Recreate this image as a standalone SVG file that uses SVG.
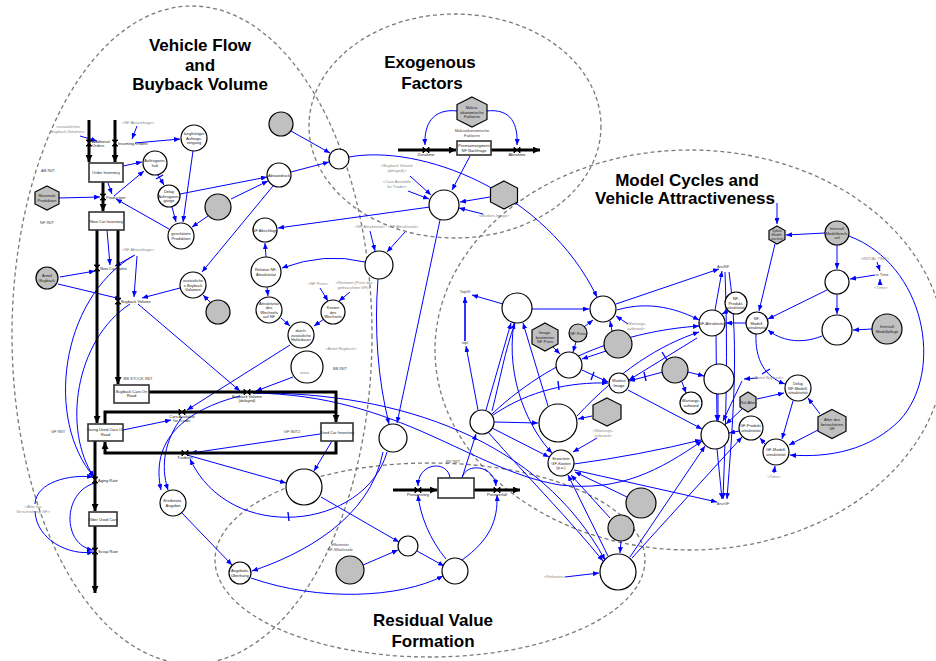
<svg xmlns="http://www.w3.org/2000/svg" width="936" height="661" viewBox="0 0 936 661">
<style>
.e{fill:none;stroke:#7a7a7a;stroke-width:1.3;stroke-dasharray:4 3}
.t{font-family:"Liberation Sans",Arial,sans-serif;font-weight:bold;font-size:17px;text-anchor:middle;fill:#000}
.l{font-family:"Liberation Sans",Arial,sans-serif;font-size:4px;text-anchor:middle;fill:#222}
.s{text-anchor:start}
.gl{fill:#8a8a8a}
.dk{fill:#444}
.n{fill:#fff;stroke:#000;stroke-width:1.2}
.g{fill:#c0c0c0;stroke:#000;stroke-width:1.2}
.b{fill:#fff;stroke:#333;stroke-width:1.6}
.p{fill:none;stroke:#000;stroke-width:3}
.pa{marker-end:url(#pa)}
.c path{fill:none;stroke:#0000ff;stroke-width:1;marker-end:url(#a)}
.c path.k{marker-end:none;stroke-width:1.4}
</style>
<defs>
<marker id="a" markerUnits="userSpaceOnUse" markerWidth="6" markerHeight="5" refX="6" refY="2.5" orient="auto"><path d="M0,0 L6,2.5 L0,5 z" fill="#0000ff"/></marker>
<marker id="pa" markerUnits="userSpaceOnUse" markerWidth="8" markerHeight="7" refX="7" refY="3.5" orient="auto"><path d="M0,0 L7,3.5 L0,7 z" fill="#000"/></marker>
<path id="vv" d="M-3,-3 H3 L-3,3 H3 Z" fill="#000" stroke="#000" stroke-width="0.8"/>
<path id="vh" d="M-3,-3 V3 L3,-3 V3 Z" fill="#000" stroke="#000" stroke-width="0.8"/>
</defs>
<rect width="936" height="661" fill="#fff"/>

<g id="regions">
<ellipse class="e" cx="192" cy="335" rx="180" ry="329"/>
<ellipse class="e" cx="455" cy="126" rx="146" ry="112"/>
<ellipse class="e" cx="690" cy="350" rx="255" ry="200"/>
<ellipse class="e" cx="430" cy="560" rx="215" ry="97"/>
<text class="t" x="200" y="51">Vehicle Flow</text>
<text class="t" x="200" y="71">and</text>
<text class="t" x="200" y="90">Buyback Volume</text>
<text class="t" x="430" y="68">Exogenous</text>
<text class="t" x="432" y="89">Factors</text>
<text class="t" x="687" y="186">Model Cycles and</text>
<text class="t" x="685" y="204">Vehicle Attractiveness</text>
<text class="t" x="433" y="626">Residual Value</text>
<text class="t" x="433" y="647">Formation</text>
</g>

<g id="connectors" class="c">
<path d="M80,136 L97,141"/>
<path d="M137,126 L132,139"/>
<path d="M135,143 L180,139"/>
<path d="M123,166 L142,162"/>
<path d="M114,196 L144,171"/>
<path d="M108,183 L112,194"/>
<path d="M59,198 L100,197"/>
<path d="M158,175 L164,185"/><path class="k" d="M156,179 L163,175"/>
<path d="M172,207 L176,222"/>
<path d="M193,151 L183,222"/>
<path d="M208,216 L192,227"/>
<path d="M169,229 L116,199"/>
<path d="M180,194 L267,177"/>
<path d="M231,199 L268,181"/>
<path d="M291,172 L329,162"/>
<path d="M291,131 L330,153"/>
<path d="M273,186 L202,272"/>
<path d="M107,230 L110,265"/>
<path d="M135,255 L115,266"/>
<path d="M137,256 L134,297"/>
<path d="M60,277 L95,271"/>
<path d="M58,284 L121,299"/>
<path d="M180,288 L142,298"/>
<path d="M210,302 L203,295"/>
<path d="M138,304 L240,391"/>
<path d="M290,345 L187,410"/>
<path d="M293,377 L256,391"/>
<path d="M281,318 L290,326"/>
<path d="M324,319 L314,326"/>
<path d="M320,288 L328,301"/>
<path d="M350,292 L339,301"/>
<path d="M266,257 L265,243"/>
<path d="M267,287 L268,296"/>
<path d="M365,262 Q325,252 282,268"/>
<path d="M430,207 L278,228"/>
<path d="M370,231 L375,251"/>
<path d="M405,232 L387,252"/>
<path d="M410,176 L431,195"/>
<path d="M408,191 L429,199"/>
<path d="M470,156 L452,190"/>
<path d="M490,197 L460,202"/>
<path d="M483,214 L459,208"/>
<path d="M458,111 C432,108 424,125 425,145"/>
<path d="M486,111 C512,108 518,125 517,145"/>
<path d="M349,157 C420,144 545,190 597,297"/>
<path d="M440,220 L397,423"/>
<path d="M378,279 C374,330 378,380 389,424"/>
<path d="M123,430 L171,420"/>
<path d="M320,434 L191,453"/>
<path d="M332,441 L314,471"/>
<path d="M187,455 L286,483"/>
<path d="M387,452 C365,530 230,545 190,459"/><path class="k" d="M288,512 L289,521"/>
<path d="M383,452 C370,520 300,555 252,571"/>
<path d="M181,512 L232,565"/>
<path d="M240,396 C185,410 150,440 161,490"/>
<path d="M182,417 C165,440 160,465 168,490"/>
<path d="M251,578 C320,602 400,598 443,576"/>
<path d="M321,497 L399,542"/>
<path d="M363,565 L398,550"/>
<path d="M417,551 L444,566"/>
<path d="M446,559 C430,540 420,515 418,495"/>
<path d="M450,478 C448,460 418,462 418,486"/>
<path d="M462,478 C466,462 494,465 496,486"/>
<path d="M462,560 C490,540 498,520 497,495"/>
<path d="M253,393 C400,392 540,440 605,560"/>
<path d="M253,393 C400,395 470,470 560,485 C620,492 660,470 702,441"/>
<path d="M133,256 C60,300 45,420 94,477"/>
<path d="M130,304 C75,340 62,430 94,477"/>
<path d="M35,504 C36,482 70,474 93,477"/>
<path d="M35,511 C36,540 70,556 93,552"/>
<path d="M95,483 C62,492 62,545 93,550"/>
<path d="M503,304 L472,295"/>
<path d="M465,341 L465,297" style="stroke-width:1.6"/>
<path d="M478,410 L466,346"/>
<path d="M532,309 L589,309"/>
<path d="M486,410 L511,323"/>
<path d="M492,411 C500,380 505,350 515,323"/>
<path d="M548,406 L523,323"/>
<path d="M514,323 C505,380 530,430 552,453"/>
<path d="M493,415 C530,390 570,382 608,383"/><path class="k" d="M558,381 L559,390"/>
<path d="M494,422 L538,423"/>
<path d="M492,428 L549,457"/>
<path d="M592,416 L578,419"/>
<path d="M597,438 L573,452"/>
<path d="M574,464 Q640,455 701,440"/>
<path d="M574,470 L717,502"/>
<path d="M627,497 L575,472"/>
<path d="M610,518 L571,475"/>
<path d="M608,556 L568,475"/>
<path d="M621,541 L620,553"/>
<path d="M565,577 L599,573"/>
<path d="M632,558 L742,437"/>
<path d="M488,432 C530,480 570,520 603,561"/>
<path d="M462,478 L476,434"/>
<path d="M616,304 L719,269"/>
<path d="M617,310 C650,300 680,310 699,320"/>
<path d="M492,414 C560,350 640,330 699,326"/>
<path d="M577,416 C620,370 660,345 699,332"/>
<path d="M697,338 L629,380"/><path class="k" d="M662,352 L667,360"/>
<path d="M663,372 L629,381"/><path class="k" d="M644,372 L646,381"/>
<path d="M582,370 L608,382"/><path class="k" d="M594,372 L591,380"/>
<path d="M688,372 L704,376"/>
<path d="M682,382 L686,393"/>
<path d="M718,394 L718,421"/>
<path d="M716,336 L717,421"/>
<path d="M628,390 L702,429"/>
<path d="M630,557 L705,446"/>
<path d="M717,449 L722,499"/>
<path d="M725,272 C728,350 726,420 723,499"/>
<path d="M729,272 C740,350 732,430 727,499"/>
<path d="M758,378 L744,379"/>
<path d="M742,381 L723,421"/>
<path d="M739,431 L729,433"/>
<path d="M728,311 L722,314"/>
<path d="M746,323 L726,323"/>
<path d="M715,310 L722,271"/>
<path d="M777,203 L777,224"/>
<path d="M825,233 L786,235"/>
<path d="M837,245 L837,269"/>
<path d="M875,275 L850,279"/>
<path d="M877,262 L880,271"/>
<path d="M880,285 L880,279"/>
<path d="M837,294 L837,314"/>
<path d="M872,329 L853,330"/>
<path d="M827,290 L768,319"/>
<path d="M822,336 C800,345 780,340 768,330"/>
<path d="M775,244 L759,311"/>
<path d="M756,334 C755,360 765,377 785,384"/><path class="k" d="M762,374 L770,369"/>
<path d="M757,399 L784,393"/>
<path d="M742,409 L726,424"/>
<path d="M793,401 L782,439"/>
<path d="M820,414 L808,398"/>
<path d="M818,430 L789,445"/>
<path d="M774,473 L775,466"/>
<path d="M849,236 C925,265 945,370 900,420 C870,450 830,458 790,455"/>
<path d="M765,444 L760,438"/>
<path d="M553,347 L560,354"/>
<path d="M576,342 L573,352"/>
<path d="M606,351 L582,359"/>
<path d="M584,327 L593,320"/>
<path d="M612,331 L610,321"/>
<path d="M628,324 L616,316"/>
</g>

<g id="pipes">
<path class="p pa" d="M89,120 V162"/>
<path class="p pa" d="M115,120 V162"/>
<path class="p pa" d="M103,182 V211"/>
<path class="p pa" d="M97,230 V423"/>
<path class="p pa" d="M118,230 V384"/>
<path class="p pa" d="M149,392 H336 V422"/>
<path class="p" d="M105,424 V412 H336"/>
<path class="p pa" d="M336,441 V453 H105 V442"/>
<path class="p pa" d="M95,441 V511"/>
<path class="p pa" d="M95,526 V593"/>
<path class="p pa" d="M398,150 H456"/>
<path class="p pa" d="M491,150 H540"/>
<path class="p pa" d="M393,490 H437"/>
<path class="p pa" d="M474,490 H520"/>
<use href="#vv" x="89" y="143"/><use href="#vv" x="115" y="143"/>
<use href="#vv" x="103" y="197"/><use href="#vv" x="97" y="268"/>
<use href="#vv" x="118" y="301"/><use href="#vh" x="247" y="392"/>
<use href="#vh" x="182" y="412"/><use href="#vh" x="185" y="453"/>
<use href="#vv" x="95" y="480"/><use href="#vv" x="95" y="551"/>
<use href="#vh" x="426" y="150"/><use href="#vh" x="517" y="150"/>
<use href="#vh" x="418" y="490"/><use href="#vh" x="497" y="490"/>
<text class="l s" x="92" y="142.5">Additional</text>
<text class="l s" x="92" y="146.8">Orders</text>
<text class="l s" x="118" y="144.5">Incoming Orders</text>
<text class="l s" x="106" y="198.5">Production</text>
<text class="l s" x="100" y="269.5">New Car Sales</text>
<text class="l s" x="121" y="302.5">Buyback Volume</text>
<text class="l" x="247" y="397.5">Buyback Volume</text>
<text class="l" x="247" y="402">(delayed)</text>
<text class="l" x="182" y="417.5">Cars Available</text>
<text class="l" x="182" y="422">for Trader</text>
<text class="l" x="185" y="459">Tradeins</text>
<text class="l s" x="98" y="481.5">Aging Rate</text>
<text class="l s" x="98" y="552.5">Scrap Rate</text>
<text class="l" x="426" y="155.5">Zunahme</text>
<text class="l" x="517" y="155.5">Abnahme</text>
<text class="l" x="418" y="496">Preisanstieg</text>
<text class="l" x="497" y="496">Preisverfall</text>
</g>

<g id="order-inventory"><rect class="b" x="89" y="163" width="34" height="19"/><text class="l" x="106" y="174">Order Inventory</text></g>
<g id="new-car-inventory"><rect class="b" x="89" y="212" width="35" height="18"/><text class="l" x="106.5" y="222.5">New Car Inventory</text></g>
<g id="buyback-cars"><rect class="b" x="114" y="385" width="35" height="18"/><text class="l" x="131.5" y="392.5">Buyback Cars On</text><text class="l" x="131.5" y="397">Road</text></g>
<g id="young-used-cars"><rect class="b" x="88" y="424" width="35" height="17"/><text class="l" x="105.5" y="431">Young Used Cars On</text><text class="l" x="105.5" y="435.5">Road</text></g>
<g id="older-used-cars"><rect class="b" x="89" y="512" width="28" height="14"/><text class="l" x="103" y="520.5">Older Used Cars</text></g>
<g id="used-car-inventory"><rect class="b" x="321" y="423" width="32" height="18"/><text class="l" x="337" y="433.5">Used Car Inventory</text></g>
<g id="premium-nf"><rect class="b" x="457" y="141" width="34" height="14"/><text class="l" x="474" y="147">Premiumsegment</text><text class="l" x="474" y="151.5">NF Nachfrage</text></g>
<g id="rv-stock"><rect class="b" x="438" y="478" width="36" height="20"/></g>

<g id="maximale-produktion"><polygon class="g" points="47,186 59,192 59,204 47,210 35,204 35,192"/><text class="l" x="47" y="197.3">Maximale</text><text class="l" x="47" y="201.8">Produktion</text></g>
<g id="makro"><polygon class="g" points="472,97 487,104.5 487,119.5 472,127 457,119.5 457,104.5"/><text class="l" x="472" y="109">Makro-</text><text class="l" x="472" y="113.5">ökonomische</text><text class="l" x="472" y="118">Faktoren</text></g>
<g id="exo-hex"><polygon class="g" points="504,181 517.5,188 517.5,202 504,209 490.5,202 490.5,188"/></g>
<g id="image-bestimmer"><polygon class="g" points="545,323 558,330 558,344 545,351 532,344 532,330"/><text class="l" x="545" y="334">Image-</text><text class="l" x="545" y="338.5">bestimmer</text><text class="l" x="545" y="343">NF-Preis</text></g>
<g id="hex-wartung"><polygon class="g" points="607,398 621,405 621,419 607,426 593,419 593,405"/></g>
<g id="zyklus-hex"><polygon class="g" points="777,226 785,230.5 785,239.5 777,244 769,239.5 769,230.5"/><text class="l" x="777" y="232" style="font-size:3.3px">Zyklus</text><text class="l" x="777" y="235.8" style="font-size:3.3px">Modell-</text><text class="l" x="777" y="239.6" style="font-size:3.3px">wechsel</text></g>
<g id="rel-alter"><polygon class="g" points="748,392 756,397 756,407 748,412 740,407 740,397"/><text class="l" x="748" y="403.5">Rel.Alter</text></g>
<g id="alter-gf"><polygon class="g" points="832,409.5 846,416.75 846,431.25 832,438.5 818,431.25 818,416.75"/><text class="l" x="832" y="421">Alter des</text><text class="l" x="832" y="425.5">betrachteten</text><text class="l" x="832" y="430">GF</text></g>

<g id="langfristiger"><circle class="n" cx="194" cy="138" r="13"/><text class="l" x="194" y="135">langfristiger</text><text class="l" x="194" y="139.5">Auftrags-</text><text class="l" x="194" y="144">eingang</text></g>
<g id="auftragsein"><circle class="n" cx="155" cy="163" r="12"/><text class="l" x="155" y="162.3">Auftragsein-</text><text class="l" x="155" y="166.8">halt</text></g>
<g id="delay-auftrag"><circle class="n" cx="169" cy="196" r="11"/><text class="l" x="169" y="193">Delay</text><text class="l" x="169" y="197.5">Auftragsein-</text><text class="l" x="169" y="202">gänge</text></g>
<g id="geschaetzte-produktion"><circle class="n" cx="181" cy="236" r="13"/><text class="l" x="181" y="235.3">geschätzte</text><text class="l" x="181" y="239.8">Produktion</text></g>
<g id="grey1"><circle class="g" cx="218" cy="207" r="13"/></g>
<g id="absatzdruck"><circle class="n" cx="279" cy="175" r="12"/><text class="l" x="279" y="176.5">Absatzdruck</text></g>
<g id="grey2"><circle class="g" cx="281" cy="124" r="12"/></g>
<g id="aux1"><circle class="n" cx="339" cy="159" r="10"/></g>
<g id="nf-abschlaege"><circle class="n" cx="265" cy="230" r="12"/><text class="l" x="265" y="231.5">NF Abschläge</text></g>
<g id="relative-nf"><circle class="n" cx="266" cy="272" r="15"/><text class="l" x="266" y="271.3">Relative NF-</text><text class="l" x="266" y="275.8">Attraktivität</text></g>
<g id="aux2"><circle class="n" cx="379" cy="265" r="14"/></g>
<g id="zusaetzliche-bv"><circle class="n" cx="193" cy="285" r="13"/><text class="l" x="193" y="282">zusätzliche</text><text class="l" x="193" y="286.5">s Buyback</text><text class="l" x="193" y="291">Volumen</text></g>
<g id="grey3"><circle class="g" cx="218" cy="312" r="12"/></g>
<g id="anteil-buyback"><circle class="g" cx="47" cy="278" r="11"/><text class="l" x="47" y="277.3">Anteil</text><text class="l" x="47" y="281.8">Buyback</text></g>
<g id="attraktivitaet-wechsel"><circle class="n" cx="269" cy="310" r="13"/><text class="l" x="269" y="304.8">Attraktivität</text><text class="l" x="269" y="309.3">des</text><text class="l" x="269" y="313.8">Wechsels</text><text class="l" x="269" y="318.3">auf NF</text></g>
<g id="kosten-wechsel"><circle class="n" cx="333" cy="312" r="12"/><text class="l" x="333" y="309">Kosten</text><text class="l" x="333" y="313.5">des</text><text class="l" x="333" y="318">Wechsels</text></g>
<g id="haltedauer"><circle class="n" cx="301" cy="335" r="13"/><text class="l" x="301" y="332">durch.</text><text class="l" x="301" y="336.5">zusätzliche</text><text class="l" x="301" y="341">Haltedauer</text></g>
<g id="aux3"><circle class="n" cx="307" cy="367" r="16"/><path d="M300,373 H309" stroke="#444" stroke-width="0.5"/></g>
<g id="aux4"><circle class="n" cx="444" cy="205" r="15"/></g>
<g id="aux5"><circle class="n" cx="393" cy="438" r="14"/></g>
<g id="aux6"><circle class="n" cx="304" cy="487" r="18"/></g>
<g id="erstbesitz-angebot"><circle class="n" cx="173" cy="503" r="13"/><text class="l" x="173" y="502.3">Erstbesitz-</text><text class="l" x="173" y="506.8">Angebot</text></g>
<g id="angebotsueberhang"><circle class="n" cx="240" cy="573" r="11"/><text class="l" x="240" y="572.3">Angebots-</text><text class="l" x="240" y="576.8">Überhang</text></g>
<g id="grey4"><circle class="g" cx="350" cy="570" r="14"/></g>
<g id="aux7"><circle class="n" cx="408" cy="546" r="10"/></g>
<g id="aux8"><circle class="n" cx="455" cy="571" r="13"/></g>
<g id="aux9"><circle class="n" cx="517" cy="308" r="15"/></g>
<g id="aux10"><circle class="n" cx="603" cy="309" r="13"/></g>
<g id="nf-preis"><circle class="g" cx="578" cy="333" r="9"/><text class="l" x="578" y="334.5">NF Preis</text></g>
<g id="grey5"><circle class="g" cx="618" cy="344" r="14"/></g>
<g id="aux11"><circle class="n" cx="569" cy="365" r="13"/></g>
<g id="marken-image"><circle class="n" cx="619" cy="383" r="10"/><text class="l" x="619" y="382.3">Marken</text><text class="l" x="619" y="386.8">Image</text></g>
<g id="aux12"><circle class="n" cx="482" cy="422" r="12"/></g>
<g id="aux13"><circle class="n" cx="558" cy="423" r="19"/></g>
<g id="erwartete-gf-kosten"><circle class="n" cx="561" cy="463" r="13"/><text class="l" x="561" y="460">Erwartete</text><text class="l" x="561" y="464.5">GF-Kosten</text><text class="l" x="561" y="469">(p.a.)</text></g>
<g id="grey6"><circle class="g" cx="641" cy="503" r="15"/></g>
<g id="grey7"><circle class="g" cx="621" cy="528" r="13"/></g>
<g id="aux14"><circle class="n" cx="618" cy="572" r="18"/></g>
<g id="nf-attraktivitaet"><circle class="n" cx="712" cy="323" r="13"/><text class="l" x="712" y="324.5">NF-Attraktivität</text></g>
<g id="nf-produkt"><circle class="n" cx="736" cy="303" r="11"/><text class="l" x="736" y="300">NF-</text><text class="l" x="736" y="304.5">Produkt-</text><text class="l" x="736" y="309">attraktivität</text></g>
<g id="nf-modell"><circle class="n" cx="757" cy="323" r="11"/><text class="l" x="757" y="320">NF-</text><text class="l" x="757" y="324.5">Modell-</text><text class="l" x="757" y="329">attraktivität</text></g>
<g id="intervall-modellwechsel"><circle class="g" cx="837" cy="233" r="12"/><text class="l" x="837" y="230">Intervall</text><text class="l" x="837" y="234.5">Modellwech-</text><text class="l" x="837" y="239">sel</text></g>
<g id="aux15"><circle class="n" cx="837" cy="282" r="12"/></g>
<g id="aux16"><circle class="n" cx="837" cy="330" r="15"/></g>
<g id="intervall-modellpflege"><circle class="g" cx="887" cy="329" r="15"/><text class="l" x="887" y="328.3">Intervall</text><text class="l" x="887" y="332.8">Modellpflege</text></g>
<g id="grey8"><circle class="g" cx="675" cy="370" r="13"/></g>
<g id="aux17"><circle class="n" cx="719" cy="379" r="15"/></g>
<g id="wartungsaufwand"><circle class="n" cx="691" cy="403" r="11"/><text class="l" x="691" y="402.3">Wartungs-</text><text class="l" x="691" y="406.8">aufwand</text></g>
<g id="delay-nf-modell"><circle class="n" cx="798" cy="388" r="13"/><text class="l" x="798" y="385">Delay</text><text class="l" x="798" y="389.5">NF-Modell-</text><text class="l" x="798" y="394">attraktivität</text></g>
<g id="aux18"><circle class="n" cx="715" cy="435" r="14"/></g>
<g id="gf-produkt"><circle class="n" cx="751" cy="428" r="12"/><text class="l" x="751" y="427.3">GF-Produkt-</text><text class="l" x="751" y="431.8">attraktivität</text></g>
<g id="gf-modell"><circle class="n" cx="776" cy="452" r="13"/><text class="l" x="776" y="451.3">GF-Modell-</text><text class="l" x="776" y="455.8">attraktivität</text></g>

<g id="labels">
<text class="l gl" x="68" y="128">&lt;zusätzliches</text><text class="l gl" x="68" y="132.5">Buyback Volumen&gt;</text>
<text class="l gl" x="138" y="124">&lt;NF Absatzfrage&gt;</text>
<text class="l gl" x="138" y="251">&lt;NF Absatzfrage&gt;</text>
<text class="l dk" x="48" y="172">AB INIT</text>
<text class="l dk" x="47" y="224">NF INIT</text>
<text class="l dk" x="58" y="433">GF INIT</text>
<text class="l dk" x="138" y="380">BB STOCK INIT</text>
<text class="l dk" x="292" y="433">GF INIT2</text>
<text class="l dk" x="340" y="370">BB INIT</text>
<text class="l gl" x="341" y="350">&lt;Anteil Buyback&gt;</text>
<text class="l gl" x="33" y="508">&lt;Alter bis</text><text class="l gl" x="33" y="512.5">Verschrottung GF&gt;</text>
<text class="l gl" x="318" y="285">&lt;NF Preis&gt;</text>
<text class="l gl" x="354" y="284">&lt;Restwert (Preis des</text><text class="l gl" x="354" y="288.5">gebrauchten GF)&gt;</text>
<text class="l gl" x="397" y="167">&lt;Buyback Volume</text><text class="l gl" x="397" y="171.5">(delayed)&gt;</text>
<text class="l gl" x="397" y="183">&lt;Cars Available</text><text class="l gl" x="397" y="187.5">for Trader&gt;</text>
<text class="l gl" x="494" y="217">&lt;Marken-Image&gt;</text>
<text class="l gl" x="370" y="228">&lt;NF Attraktivität&gt;</text>
<text class="l gl" x="403" y="228">&lt;GF Attraktivität&gt;</text>
<text class="l dk" x="472" y="132">Makroökonomische</text><text class="l dk" x="472" y="136.5">Faktoren</text>
<text class="l dk" x="465" y="293">TopGf</text>
<text class="l dk" x="465" y="344">topl</text>
<text class="l gl" x="636" y="325">&lt;Wartungs-</text><text class="l gl" x="636" y="329.5">aufwand&gt;</text>
<text class="l gl" x="603" y="432">&lt;Wartungs-</text><text class="l gl" x="603" y="436.5">aufwand&gt;</text>
<text class="l gl" x="555" y="578">&lt;Fixkosten&gt;</text>
<text class="l dk" x="453" y="463">RV INIT</text>
<text class="l dk" x="340" y="546">Effizienter</text><text class="l dk" x="340" y="550.5">GF-Wholesale</text>
<text class="l dk" x="723" y="268">AnzNF</text>
<text class="l dk" x="723" y="505">AnzGF</text>
<text class="l gl" x="875" y="260">&lt;INITIAL TIME&gt;</text>
<text class="l dk" x="882" y="276">in Time</text>
<text class="l gl" x="881" y="289">&lt;Time&gt;</text>
<text class="l gl" x="768" y="379">&lt;Anteil Buyback&gt;</text>
<text class="l gl" x="774" y="478">&lt;Time&gt;</text>
</g>
</svg>
